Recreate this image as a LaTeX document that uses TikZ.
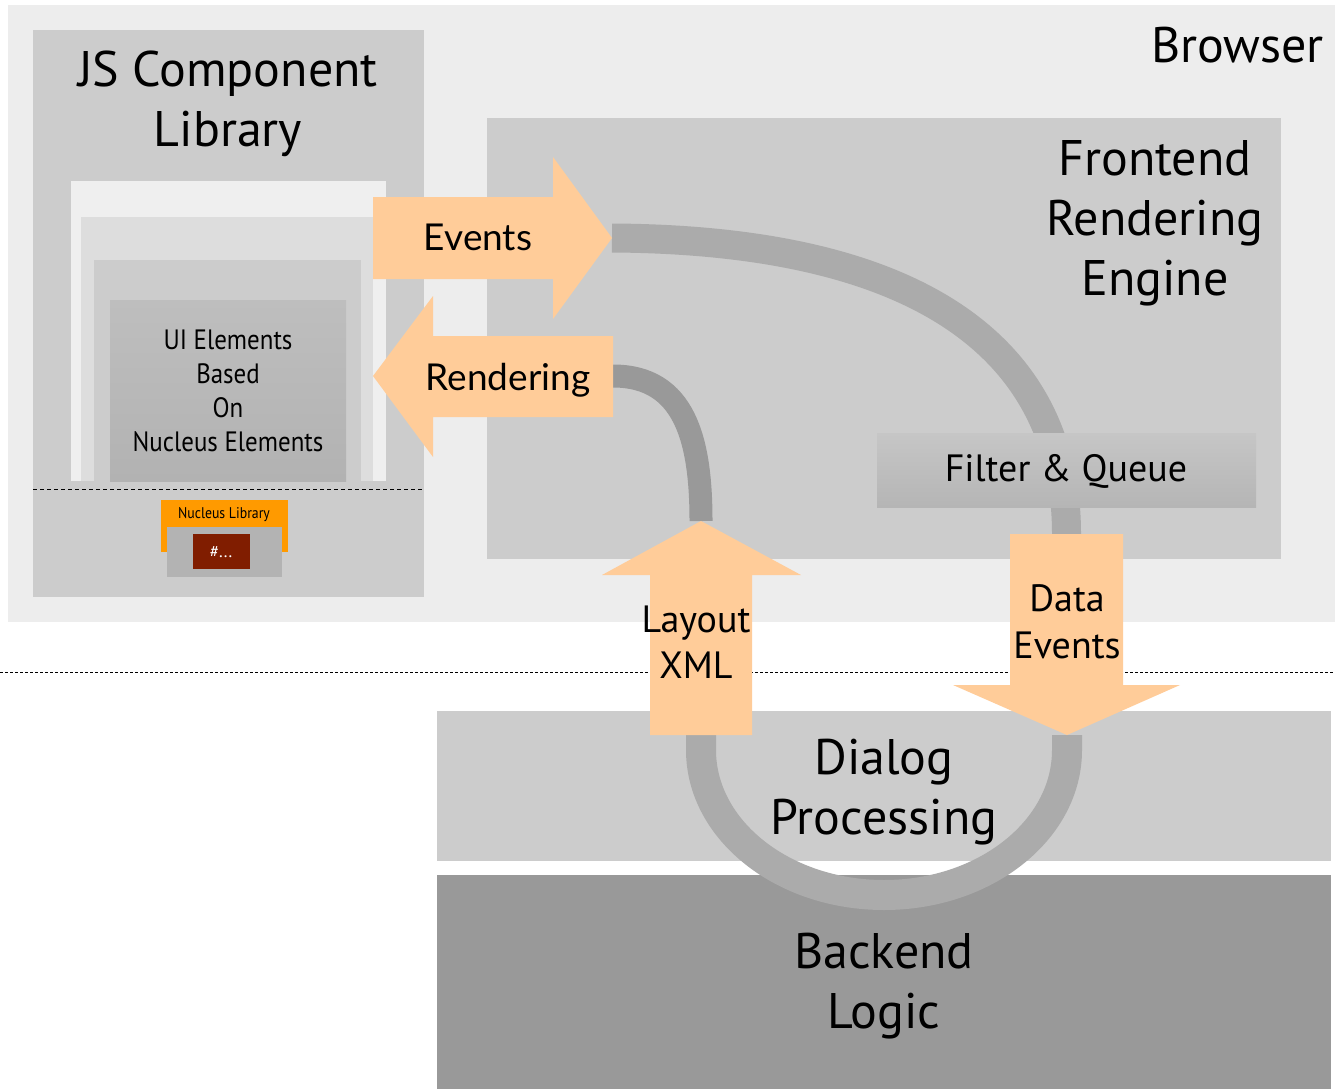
\documentclass[tikz,border=0pt]{standalone}
\usepackage{fontspec}
\setmainfont{PT Sans}
\newfontfamily\latofont{Lato}
\newfontfamily\narrowfont[FakeStretch=0.89]{PT Sans}
\newcommand\myfs[2]{\fontsize{#1}{#2}\selectfont}
\definecolor{bgbrowser}{HTML}{EDEDED}
\definecolor{panel}{HTML}{CCCCCC}
\definecolor{lay1}{HTML}{EFEFEF}
\definecolor{lay2}{HTML}{DDDDDD}
\definecolor{peach}{HTML}{FFCC99}
\definecolor{pipegray}{HTML}{ABABAB}
\definecolor{pipedark}{HTML}{999999}
\definecolor{backend}{HTML}{999999}
\definecolor{nucorange}{HTML}{FF9A00}
\definecolor{nucgray}{HTML}{B3B3B3}
\definecolor{nucred}{HTML}{801D00}
\begin{document}
\begin{tikzpicture}[x=1pt,y=-1pt,
  lbl/.style={inner sep=0pt, align=center, text=black},
  big/.style={font=\myfs{50}{60}},
  arrowshape/.style={fill=peach},
  pipe/.style={draw=pipegray, line width=29pt},
  pipethin/.style={draw=pipedark, line width=23pt},
  sep/.style={draw=black, line width=0.9pt, dash pattern=on 3pt off 2pt}
]
\useasboundingbox (0,0) rectangle (1335,1089);
\fill[white] (0,0) rectangle (1335,1089);

% browser area
\fill[bgbrowser] (8,5) rectangle (1335,622);
\node[lbl, big, anchor=east] (browser) at (1324,45) {Browser};

% JS component library
\fill[panel] (33,30) rectangle (424,597);
\node[lbl, big] (jslib) at (228,104) {JS Component\\Library};
\fill[lay1] (71,181) rectangle (386,481);
\fill[lay2] (81,217) rectangle (373,481);
\fill[panel] (94,260) rectangle (361,481);
\shade[top color={rgb,255:red,190;green,190;blue,190}, bottom color={rgb,255:red,178;green,178;blue,178}] (110,300) rectangle (346,481);
\node[lbl, font=\narrowfont\myfs{28}{34}] (uiel) at (228,391) {UI Elements\\Based\\On\\Nucleus Elements};
\draw[sep, dash pattern=on 4pt off 3pt] (33,489) -- (424,489);
\fill[nucorange] (161,500) rectangle (288,552);
\node[lbl, font=\narrowfont\myfs{15.5}{18}] (nuclib) at (224,515) {Nucleus Library};
\fill[nucgray] (167,527) rectangle (282,577);
\fill[nucred] (193,534) rectangle (250,569);
\node[lbl, font=\myfs{17}{20}, text=white] (hash) at (221,552) {\#...};

% frontend rendering engine
\fill[panel] (487,118) rectangle (1281,559);
\node[lbl, big] (fre) at (1155,223) {Frontend\\Rendering\\Engine};

% dialog processing and backend
\fill[panel] (437,711) rectangle (1331,861);
\fill[backend] (437,875) rectangle (1331,1089);

% browser / server separator
\draw[sep] (0,672) -- (1335,672);

% coordinates of arrow ends
\coordinate (evtip) at (612,238);
\coordinate (rdtail) at (613,376);
\coordinate (lxtip) at (701,521);
\coordinate (lxbase) at (701,735);
\coordinate (detop) at (1066.5,534);
\coordinate (detip) at (1067,735);

% pipes
\draw[pipe] (evtip) .. controls (950,240) and (1066.5,370) .. (detop);
\draw[pipethin] (rdtail) .. controls (685,376) and (701,440) .. (lxtip);
\draw[pipe, line width=30pt] (detip) -- (1067,750) arc[start angle=0, end angle=180, x radius=183, y radius=145] -- (lxbase);

% filter & queue
\shade[top color={rgb,255:red,198;green,198;blue,198}, bottom color={rgb,255:red,181;green,181;blue,181}] (877,433) rectangle (1256,507);
\node[lbl, font=\myfs{38}{46}] (fq) at (1066,471) {Filter \& Queue};

% arrows
\fill[arrowshape] (373,197) -- (553,197) -- (553,157) -- (evtip) -- (553,319) -- (553,279) -- (373,279) -- cycle;
\node[lbl, font=\latofont\myfs{37}{44}] (events) at (478,237) {Events};
\fill[arrowshape] (613,336) -- (433,336) -- (433,296) -- (373,376) -- (433,457) -- (433,417) -- (613,417) -- cycle;
\node[lbl, font=\latofont\myfs{37}{44}] (rendering) at (508,380) {Rendering};
\fill[arrowshape] (650,735) -- (650,575) -- (602,575) -- (lxtip) -- (801,575) -- (752,575) -- (752,735) -- cycle;
\node[lbl, font=\myfs{38}{46}] (layout) at (696,642) {Layout\\XML};
\fill[arrowshape] (1010,534) -- (1123,534) -- (1123,685) -- (1180,685) -- (detip) -- (953,685) -- (1010,685) -- cycle;
\node[lbl, font=\myfs{38}{47}] (dataev) at (1067,622) {Data\\Events};

% box labels
\node[lbl, big] (dialog) at (884,792) {Dialog\\Processing};
\node[lbl, big] (backendlbl) at (884,986) {Backend\\Logic};
\end{tikzpicture}
\end{document}
